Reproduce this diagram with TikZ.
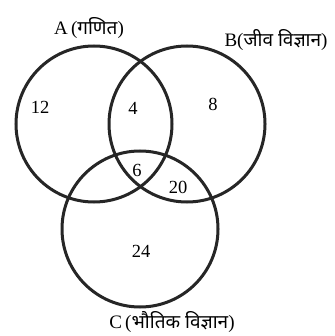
\documentclass[tikz,border=0pt]{standalone}
\usepackage{fontspec}
\setmainfont{Liberation Serif}
\newfontfamily\hindi[Script=Devanagari]{Noto Sans}
\usepackage{tikz}
\usetikzlibrary{positioning}
\tikzset{
  setcircle/.style={circle, draw=black!85, line width=3pt,
    minimum size=156pt, inner sep=0pt},
  setlabel/.style={font=\fontsize{19}{22}\selectfont, inner sep=0pt},
  count/.style={font=\fontsize{18.5}{22}\selectfont, inner sep=0pt}
}
\begin{document}
\begin{tikzpicture}[x=1pt, y=-1pt]
  \useasboundingbox (0,0) rectangle (334,336);
  % The three sets
  \node[setcircle] (A) at (94,124) {};
  \node[setcircle] (B) at (187,124) {};
  \node[setcircle] (C) at (140,229) {};

  % Set names
  \node[setlabel] (nameA) at (89,28) {A\,({\hindi गणित})};
  \node[setlabel] (nameB) at (276,40) {B({\hindi जीव विज्ञान})};
  \node[setlabel] (nameC) at (172,322) {C\,({\hindi भौतिक विज्ञान})};

  % Region counts
  \node[count] (onlyA) at (40,107) {12};
  \node[count] (AB) at (133,108) {4};
  \node[count] (onlyB) at (213,104) {8};
  \node[count] (ABC) at (137,170) {6};
  \node[count] (BC) at (178,187) {20};
  \node[count] (onlyC) at (141,251) {24};
\end{tikzpicture}
\end{document}
